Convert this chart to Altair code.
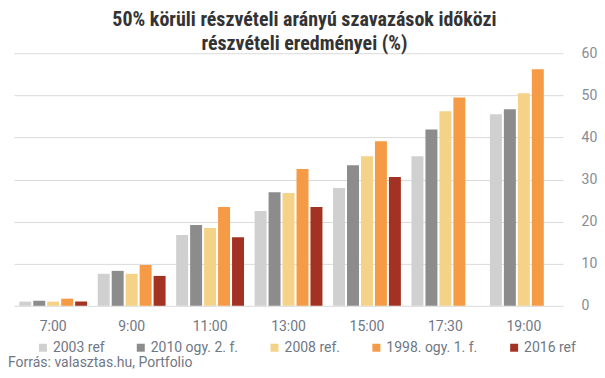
import altair as alt
import pandas as pd

times = ["7:00", "9:00", "11:00", "13:00", "15:00", "17:30", "19:00"]
series = ["2003 ref", "2010 ogy. 2. f.", "2008 ref.", "1998. ogy. 1. f.", "2016 ref"]
colors = ["#d0d0d0", "#8c8c8c", "#f4d287", "#f69b45", "#a33222"]

v2003 = [1.0, 7.6, 16.8, 22.5, 28.0, 35.5, 45.5]
v2010 = [1.2, 8.3, 19.2, 27.0, 33.4, 41.9, 46.7]
v2008 = [1.0, 7.6, 18.5, 26.8, 35.5, 46.2, 50.5]
v1998 = [1.7, 9.7, 23.5, 32.5, 39.1, 49.5, 56.2]
v2016 = [1.0, 7.1, 16.3, 23.5, 30.6, None, None]

rows = []
for s, vals in zip(series, [v2003, v2010, v2008, v1998, v2016]):
    for t, v in zip(times, vals):
        if v is not None:
            rows.append({"ido": t, "sorozat": s, "ertek": v})
df = pd.DataFrame(rows)

title_lines = ["50% körüli részvételi arányú szavazások időközi", "részvételi eredményei (%)"]
source = "Forrás: valasztas.hu, Portfolio"

tfont = "Roboto Condensed, Liberation Sans Narrow, DejaVu Sans Condensed, Roboto"
font = "Roboto"
txt = "#707784"

bars = alt.Chart(df).mark_bar().encode(
    x=alt.X("ido:N", sort=times, title=None,
            scale=alt.Scale(paddingInner=0.135, paddingOuter=0.0675),
            axis=alt.Axis(labelAngle=0, ticks=False, domain=False, labelPadding=14,
                          labelFontSize=14, labelColor=txt, labelFont=font)),
    xOffset=alt.XOffset("sorozat:N", sort=series,
                        scale=alt.Scale(paddingInner=0.143, paddingOuter=0)),
    y=alt.Y("ertek:Q", title=None,
            scale=alt.Scale(domain=[0, 60], nice=False),
            axis=alt.Axis(orient="right", values=[0, 10, 20, 30, 40, 50, 60],
                          ticks=False, domain=False, labelPadding=18,
                          labelFontSize=14, labelColor="#858b96", labelFont=font,
                          gridColor="#dadada", gridWidth=1)),
    color=alt.Color("sorozat:N", sort=series,
                    scale=alt.Scale(domain=series, range=colors),
                    legend=alt.Legend(title=None, orient="none", direction="horizontal",
                                      legendX=22, legendY=288, symbolType="square",
                                      symbolSize=64, symbolStrokeWidth=0,
                                      labelFontSize=14, labelColor=txt,
                                      labelFont=font, labelOffset=3,
                                      columnPadding=29)),
)

src = alt.Chart(pd.DataFrame({"t": [source]})).mark_text(
    align="left", baseline="alphabetic", fontSize=14, color=txt, font=font
).encode(x=alt.value(-6), y=alt.value(314), text="t:N")

chart = alt.layer(bars, src).properties(
    width=550, height=253,
    title=alt.TitleParams(title_lines, anchor="middle", dx=16, dy=12, offset=4,
                          fontSize=20, fontWeight="bold", color="#333333",
                          font=tfont, lineHeight=24),
    autosize=alt.AutoSizeParams(type="none"),
    padding={"left": 6, "top": 45, "right": 34, "bottom": 63},
).configure_view(stroke=None)

chart.save("out.html", embed_options={"renderer": "svg", "actions": False})
